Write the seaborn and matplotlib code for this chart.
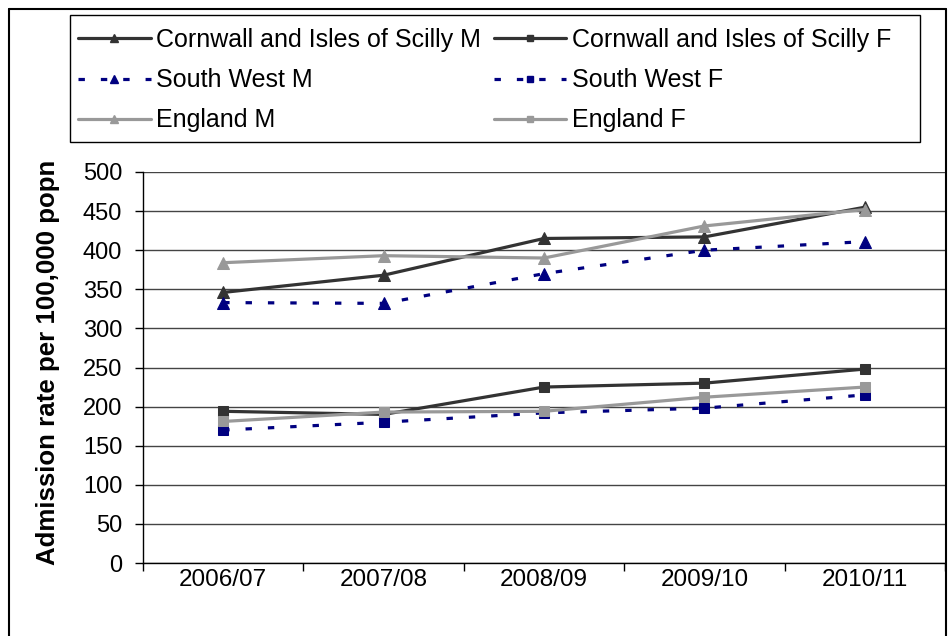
import matplotlib
matplotlib.use("Agg")
import matplotlib.pyplot as plt
import seaborn as sns
import pandas as pd
from matplotlib.lines import Line2D
from matplotlib.patches import Rectangle

years = ["2006/07", "2007/08", "2008/09", "2009/10", "2010/11"]
cornwall_m = [346, 368, 415, 417, 455]
cornwall_f = [194, 190, 225, 230, 248]
south_west_m = [333, 332, 370, 400, 411]
south_west_f = [170, 180, 192, 198, 215]
england_m = [384, 393, 390, 431, 452]
england_f = [181, 193, 194, 212, 225]
y_ticks = [0, 50, 100, 150, 200, 250, 300, 350, 400, 450, 500]

sns.set_theme(style="white")
plt.rcParams["font.family"] = ["Liberation Sans", "DejaVu Sans"]

W, H = 950, 636
fig = plt.figure(figsize=(W / 100, H / 100), dpi=100)
ax = fig.add_axes([143 / W, 1 - 563 / H, (945 - 143) / W, (563 - 172) / H])

DARK = "#333333"
NAVY = "#000080"
GREY = "#999999"

series = [
    ("Cornwall and Isles of Scilly M", cornwall_m, DARK, "^", "-", 9),
    ("Cornwall and Isles of Scilly F", cornwall_f, DARK, "s", "-", 7),
    ("South West M", south_west_m, NAVY, "^", (0, (2, 5)), 9),
    ("South West F", south_west_f, NAVY, "s", (0, (2, 5)), 7),
    ("England M", england_m, GREY, "^", "-", 9),
    ("England F", england_f, GREY, "s", "-", 7),
]

pos = list(range(len(years)))
handles = {}
for name, vals, col, mk, ls, ms in series:
    df = pd.DataFrame({"pos": pos, "value": vals})
    sns.lineplot(data=df, x="pos", y="value", ax=ax, color=col, lw=2.3,
                 marker=mk, markersize=ms, markeredgecolor=col,
                 markerfacecolor=col, linestyle=ls, legend=False)
    handles[name] = Line2D([], [], color=col, lw=2.3, linestyle=ls, marker=mk,
                           markersize=ms * 0.7, markerfacecolor=col,
                           markeredgecolor=col)

ax.set_xlim(-0.5, len(years) - 0.5)
ax.set_ylim(0, 500)
ax.set_yticks(y_ticks)
ax.set_xticks([i - 0.5 for i in range(len(years) + 1)])
ax.set_xticklabels([])
ax.set_xticks(pos, minor=True)
ax.set_xticklabels(years, minor=True)
ax.tick_params(axis="x", which="major", direction="out", length=6, width=1,
               color="black", bottom=True)
ax.tick_params(axis="x", which="minor", length=0, pad=4, labelsize=17.5,
               labelcolor="black")
ax.tick_params(axis="y", direction="out", length=6, width=1, color="black",
               left=True, pad=9, labelsize=17, labelcolor="black")

ax.yaxis.grid(True, color="#444444", lw=1)
ax.xaxis.grid(False)
ax.set_axisbelow(True)
for s in ["top", "right"]:
    ax.spines[s].set_visible(False)
for s in ["left", "bottom"]:
    ax.spines[s].set_color("black")
    ax.spines[s].set_linewidth(1)

ax.set_xlabel("")
ax.set_ylabel("Admission rate per 100,000 popn", fontsize=18.6,
              fontweight="bold", color="black")
ax.yaxis.set_label_coords((60 - 143) / 802, 0.5 + 5 / 391)

order = ["Cornwall and Isles of Scilly M", "South West M", "England M",
         "Cornwall and Isles of Scilly F", "South West F", "England F"]
leg = fig.legend([handles[n] for n in order], order, ncol=2,
                 loc="upper left", bbox_to_anchor=(70 / W, 1 - 20 / H),
                 fontsize=18, frameon=False,
                 handlelength=2.9, handletextpad=0.24, labelspacing=0.65,
                 columnspacing=0.5, borderpad=0.32, borderaxespad=0)
for t in leg.get_texts():
    t.set_color("black")

fig.add_artist(Rectangle((70 / W, 1 - 142 / H), (920 - 70) / W, (142 - 15) / H,
                         transform=fig.transFigure, fill=False,
                         edgecolor="black", lw=1))

top = 1 - 9 / H
for xs, ys in [([9 / W, 9 / W], [0, top]), ([9 / W, 946 / W], [top, top]),
               ([946 / W, 946 / W], [0, top])]:
    fig.add_artist(Line2D(xs, ys, color="black", lw=1.5,
                          transform=fig.transFigure))

fig.savefig("out.png", dpi=100)
